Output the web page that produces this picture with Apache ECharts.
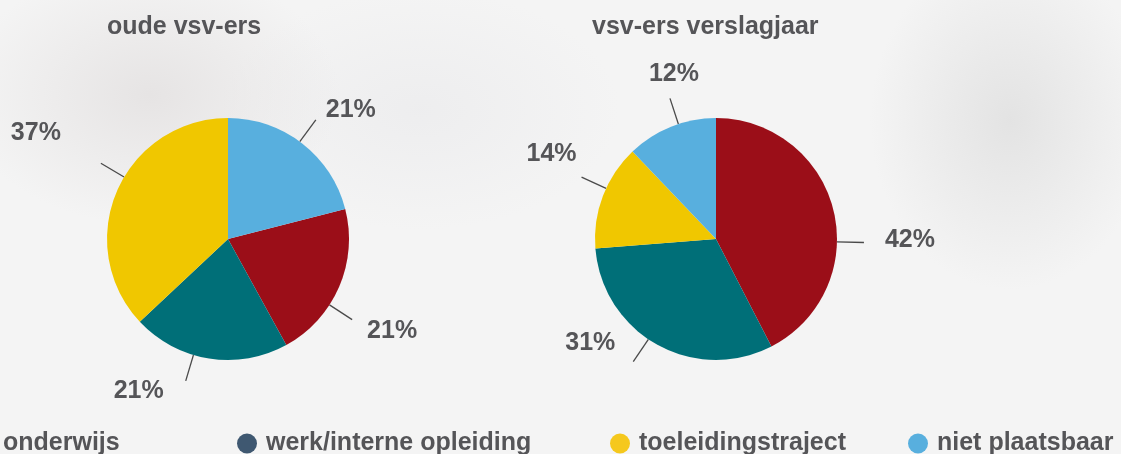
<!DOCTYPE html>
<html>
<head>
<meta charset="utf-8">
<script src="https://cdn.jsdelivr.net/npm/echarts@6/dist/echarts.min.js"></script>
<style>
  html, body { margin: 0; padding: 0; }
  body {
    width: 1121px; height: 454px; overflow: hidden;
    background:
      radial-gradient(ellipse 190px 130px at 150px 95px, rgba(224,221,221,0.7), rgba(224,221,221,0) 100%),
      radial-gradient(ellipse 140px 170px at 1010px 120px, rgba(220,220,220,0.7), rgba(220,220,220,0) 100%),
      radial-gradient(ellipse 200px 120px at 420px 110px, rgba(233,233,235,0.6), rgba(233,233,235,0) 100%),
      #f4f4f4;
  }
  #chart { width: 1121px; height: 454px; }
</style>
</head>
<body>
<div id="chart"></div>
<script>
var categories = ['onderwijs', 'werk/interne opleiding', 'toeleidingstraject', 'niet plaatsbaar'];
var oudeValues = [21, 21, 37, 21];
var verslagValues = [42, 31, 14, 12];
var pieColors = ['#9b0e18', '#006f78', '#f0c700', '#58afde'];
var legendColors = ['#9b0e18', '#3f5871', '#f5c81d', '#58afde'];
var titles = ['oude vsv-ers', 'vsv-ers verslagjaar'];

var textColor = '#555558';
var fontFam = '"Liberation Sans", Arial, sans-serif';

// labellijnen staan in het origineel niet precies op het midden van de sector
var labelAngleShift = [[9.6, 7.6, 7.4, -1.4], [15, 4.9, 3.8, 3.7]];
// positie van het label t.o.v. het eind van de lijn
var labelOffset = [
    [[40, 12], [-47, 10], [-65, -30], [35, -10]],
    [[46, -2], [-43, -19], [-30, -23], [4, -24]]
];
var centers = [[228, 239], [716, 239]];

var chart = echarts.init(document.getElementById('chart'));

function toData(values) {
    return values.map(function (v, i) {
        return { name: categories[i], value: v, itemStyle: { color: pieColors[i] } };
    });
}

function sum(arr) {
    return arr.reduce(function (a, b) { return a + b; }, 0);
}

function labelLayout(params) {
    var pts = params.labelLinePoints;
    if (!pts) return {};
    var si = params.seriesIndex, di = params.dataIndex;
    var c = centers[si];
    var a = labelAngleShift[si][di] * Math.PI / 180;
    var cos = Math.cos(a), sin = Math.sin(a);
    function rot(p) {
        var dx = p[0] - c[0], dy = p[1] - c[1];
        return [c[0] + dx * cos - dy * sin, c[1] + dx * sin + dy * cos];
    }
    var p0 = rot(pts[0]), p1 = rot(pts[1]);
    var off = labelOffset[si][di];
    return {
        x: p1[0] + off[0],
        y: p1[1] + off[1],
        align: 'center',
        verticalAlign: 'middle',
        labelLinePoints: [p0, p1, p1]
    };
}

// links begint "niet plaatsbaar" bovenaan, rechts "onderwijs"
var oudeStart = 90 - oudeValues[3] / sum(oudeValues) * 360;

var pieBase = {
    type: 'pie',
    radius: 121,
    avoidLabelOverlap: false,
    label: {
        show: true,
        position: 'outside',
        formatter: '{c}%',
        color: textColor,
        fontSize: 25,
        fontWeight: 'bold',
        fontFamily: fontFam
    },
    labelLine: {
        show: true,
        length: 27,
        length2: 0,
        lineStyle: { color: '#4a4a4a', width: 1.3 }
    },
    labelLayout: labelLayout,
    emphasis: { scale: false }
};

var legendLefts = [-26, 237, 610, 908];
var legends = categories.map(function (c, i) {
    return {
        data: [{ name: c, itemStyle: { color: legendColors[i] } }],
        left: legendLefts[i],
        top: 431,
        padding: 0,
        icon: 'circle',
        itemWidth: 20,
        itemHeight: 20,
        textStyle: { color: textColor, fontSize: 25, fontWeight: 'bold', fontFamily: fontFam, padding: [0, 0, 0, 4] }
    };
});

var option = {
    backgroundColor: 'transparent',
    title: [
        { text: titles[0], left: 102, top: 10,
          textStyle: { color: textColor, fontSize: 25, fontWeight: 'bold', fontFamily: fontFam } },
        { text: titles[1], left: 587, top: 10,
          textStyle: { color: textColor, fontSize: 25, fontWeight: 'bold', fontFamily: fontFam } }
    ],
    legend: legends,
    series: [
        Object.assign({}, pieBase, {
            center: centers[0],
            startAngle: oudeStart,
            data: toData(oudeValues)
        }),
        Object.assign({}, pieBase, {
            center: centers[1],
            startAngle: 90,
            data: toData(verslagValues)
        })
    ]
};
chart.setOption(option);
</script>
</body>
</html>
